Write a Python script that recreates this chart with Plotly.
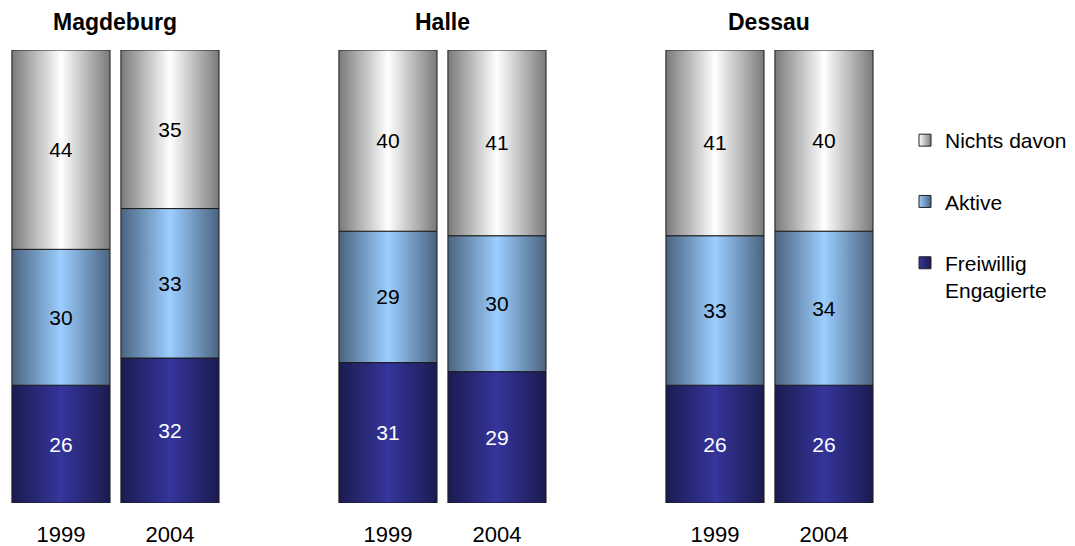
import plotly.graph_objects as go

cities = ["Magdeburg", "Halle", "Dessau"]
years = ["1999", "2004"]
series = ["Freiwillig Engagierte", "Aktive", "Nichts davon"]
legend_names = ["Freiwillig<br>Engagierte", "Aktive", "Nichts davon"]
# order: Magdeburg 1999, 2004, Halle 1999, 2004, Dessau 1999, 2004
freiwillig = [26, 32, 31, 29, 26, 26]
aktive = [30, 33, 29, 30, 33, 34]
nichts = [44, 35, 40, 41, 41, 40]
values = [freiwillig, aktive, nichts]

positions = [0, 1, 3, 4, 6, 7]
bar_w = 0.9
FONT = "Liberation Sans, Arial, sans-serif"

light = ["#35359c", "#9cceff", "#ffffff"]
dark = ["#1b1b50", "#4a6380", "#7a7a7a"]
text_col = ["white", "black", "black"]

W, H = 1067, 538  # page body adds 8px margin

fig = go.Figure()

base = [0] * len(positions)
for s in range(3):
    for i, p in enumerate(positions):
        b = base[i]
        t = b + values[s][i]
        x0, x1 = p - bar_w / 2, p + bar_w / 2
        fig.add_trace(go.Scatter(
            x=[x0, x1, x1, x0, x0], y=[b, b, t, t, b],
            mode="lines", fill="toself",
            fillgradient=dict(type="horizontal",
                              colorscale=[[0, dark[s]], [0.5, light[s]], [1, dark[s]]]),
            line=dict(color="#1a1a1a", width=1),
            showlegend=False, hoverinfo="skip",
        ))
    base = [base[i] + values[s][i] for i in range(len(positions))]

for s in range(3):
    fig.add_trace(go.Bar(
        x=positions, y=values[s], width=bar_w,
        marker=dict(color="rgba(0,0,0,0)", line=dict(width=0)),
        text=[str(v) for v in values[s]], textposition="inside",
        insidetextanchor="middle",
        textfont=dict(family=FONT, size=21, color=text_col[s]),
        showlegend=False, hoverinfo="skip", zorder=2,
    ))

# legend entries
for s in [2, 1, 0]:
    fig.add_trace(go.Scatter(
        x=[None], y=[None], mode="markers", name=legend_names[s],
        legendgroup=series[s],
        marker=dict(symbol="square", size=12, color=light[s],
                    gradient=dict(type="horizontal", color=dark[s]),
                    line=dict(color="#222222", width=1)),
    ))

for c, city in enumerate(cities):
    fig.add_annotation(x=positions[2 * c] + 0.5, y=1.0, xref="x", yref="paper",
                       yanchor="middle", yshift=28,
                       text="<b>" + city + "</b>", showarrow=False,
                       font=dict(family=FONT, size=23, color="black"))

fig.update_layout(
    barmode="stack",
    width=W, height=H,
    margin=dict(l=0, r=195, t=42, b=43, autoexpand=False),
    paper_bgcolor="white", plot_bgcolor="white",
    font=dict(family=FONT, size=21, color="black"),
    xaxis=dict(range=[-0.486, 7.514], tickvals=positions, ticktext=years * 3,
               showgrid=False, zeroline=False, showline=True, automargin=False,
               linecolor="black", linewidth=1, ticks="",
               ticklabelstandoff=12, tickfont=dict(size=22)),
    yaxis=dict(range=[0, 100], visible=False, showgrid=False, zeroline=False,
               automargin=False),
    legend=dict(x=897 / W, xref="container", y=1 - 112 / H, yref="container",
                xanchor="left", yanchor="top", valign="top",
                tracegroupgap=31, traceorder="grouped",
                font=dict(family=FONT, size=21)),
    showlegend=True,
)

fig.write_html("out.html")
